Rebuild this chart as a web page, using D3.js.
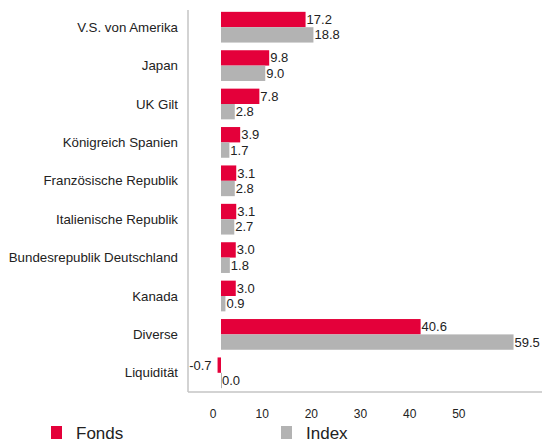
<!DOCTYPE html>
<html>
<head>
<meta charset="utf-8">
<script src="https://cdn.jsdelivr.net/npm/d3@7"></script>
<style>
  html, body { margin: 0; padding: 0; background: #fff; }
  svg { display: block; font-family: "Liberation Sans", Arial, sans-serif; }
</style>
</head>
<body>
<svg id="chart" width="542" height="443"></svg>
<script>
const categories = ["V.S. von Amerika", "Japan", "UK Gilt", "Königreich Spanien", "Französische Republik",
  "Italienische Republik", "Bundesrepublik Deutschland", "Kanada", "Diverse", "Liquidität"];
const fondsValues = [17.2, 9.8, 7.8, 3.9, 3.1, 3.1, 3.0, 3.0, 40.6, -0.7];
const indexValues = [18.8, 9.0, 2.8, 1.7, 2.8, 2.7, 1.8, 0.9, 59.5, 0.0];
const seriesNames = ["Fonds", "Index"];
const tickValues = [0, 10, 20, 30, 40, 50];

const colors = { Fonds: "#e4003a", Index: "#b3b3b3" };

const svg = d3.select("#chart");

const x = d3.scaleLinear().domain([0, 60]).range([221, 516]);
const y = d3.scaleBand().domain(categories).range([8, 392]).paddingInner(0.2).paddingOuter(0.1);
const ySub = d3.scaleBand().domain(seriesNames).range([0, y.bandwidth()]);

const rows = categories.map((c, i) => ({ cat: c, vals: [
  { s: "Fonds", v: fondsValues[i] }, { s: "Index", v: indexValues[i] }] }));

// axis lines
const axisColor = "#c4c4c4";
svg.append("line").attr("x1", 188).attr("x2", 188).attr("y1", 10).attr("y2", 392)
  .attr("stroke", axisColor).attr("stroke-width", 1.5);
svg.append("line").attr("x1", 188).attr("x2", 542).attr("y1", 392).attr("y2", 392)
  .attr("stroke", axisColor).attr("stroke-width", 1.5);

// category labels
svg.append("g").selectAll("text").data(categories).join("text")
  .attr("x", 178).attr("y", d => y(d) + y.bandwidth() / 2)
  .attr("dy", "0.35em").attr("text-anchor", "end")
  .attr("font-size", 13.3).attr("fill", "#222")
  .text(d => d);

const g = svg.append("g").selectAll("g").data(rows).join("g")
  .attr("transform", d => `translate(0,${y(d.cat)})`);

g.selectAll("rect").data(d => d.vals).join("rect")
  .attr("x", d => Math.min(x(0), x(d.v)))
  .attr("y", d => ySub(d.s))
  .attr("width", d => Math.max(1, Math.abs(x(d.v) - x(0))))
  .attr("height", ySub.bandwidth())
  .attr("fill", d => colors[d.s]);

g.selectAll("text").data(d => d.vals).join("text")
  .attr("x", d => d.v < 0 ? x(d.v) - 6 : x(d.v) + 1)
  .attr("y", d => ySub(d.s) + ySub.bandwidth() / 2)
  .attr("dy", "0.35em")
  .attr("text-anchor", d => d.v < 0 ? "end" : "start")
  .attr("font-size", 13).attr("fill", "#222")
  .text(d => d.v.toFixed(1));

// tick labels (offset as in reference)
svg.append("g").selectAll("text").data(tickValues).join("text")
  .attr("x", d => x(d) - 8).attr("y", 414).attr("dy", "0.35em")
  .attr("text-anchor", "middle").attr("font-size", 12).attr("fill", "#222")
  .text(d => d);

// legend
const legendX = { Fonds: 51, Index: 281 };
const lg = svg.append("g").selectAll("g").data(seriesNames).join("g")
  .attr("transform", d => `translate(${legendX[d]},0)`);
lg.append("rect").attr("x", 0).attr("y", 426).attr("width", 11).attr("height", 13)
  .attr("fill", d => colors[d]);
lg.append("text").attr("x", 25).attr("y", 439).attr("font-size", 17).attr("fill", "#222")
  .text(d => d);
</script>
</body>
</html>
